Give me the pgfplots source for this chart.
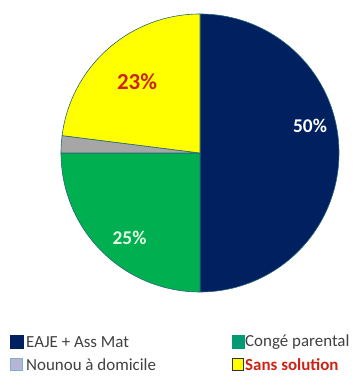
\documentclass[border=0pt]{standalone}
\usepackage{fontspec}
\setmainfont{Carlito}
\usepackage{pgfplots}
\usepackage{pgfplotstable}
\pgfplotsset{compat=1.18}
\definecolor{pnavy}{RGB}{0,32,96}
\definecolor{pgreen}{RGB}{0,176,80}
\definecolor{pgray}{RGB}{166,166,166}
\definecolor{pyellow}{RGB}{255,255,0}
\definecolor{pedge}{RGB}{40,100,120}
\definecolor{lteal}{RGB}{0,155,115}
\definecolor{lblue}{RGB}{120,180,200}
\definecolor{pred}{RGB}{205,35,20}
\definecolor{ltext}{RGB}{64,64,64}
\pgfplotstableread{
value
50
25
2
23
}\piedata
% cumulative angles, clockwise from 90 degrees
\pgfplotstablegetelem{0}{value}\of\piedata \edef\vA{\pgfplotsretval}
\pgfplotstablegetelem{1}{value}\of\piedata \edef\vB{\pgfplotsretval}
\pgfplotstablegetelem{2}{value}\of\piedata \edef\vC{\pgfplotsretval}
\pgfplotstablegetelem{3}{value}\of\piedata \edef\vD{\pgfplotsretval}
\pgfmathsetmacro{\aO}{90}
\pgfmathsetmacro{\aA}{90-3.6*\vA}
\pgfmathsetmacro{\aB}{\aA-3.6*\vB}
\pgfmathsetmacro{\aC}{\aB-3.6*\vC}
\pgfmathsetmacro{\aD}{\aC-3.6*\vD}
\begin{document}
\begin{tikzpicture}
\begin{axis}[
  x=1bp, y=1bp, xmin=0, xmax=359, ymin=0, ymax=377,
  hide axis, clip=false, scale only axis,
]
\path[use as bounding box] (axis cs:0,0) rectangle (axis cs:359,377);
\def\cx{200}\def\cy{224}\def\r{139bp}
\filldraw[fill=pnavy, draw=pedge, line width=0.6bp] (axis cs:\cx,\cy) -- ++(\aO:\r) arc[start angle=\aO, end angle=\aA, radius=\r] -- cycle;
\filldraw[fill=pgreen, draw=pedge, line width=0.6bp] (axis cs:\cx,\cy) -- ++(\aA:\r) arc[start angle=\aA, end angle=\aB, radius=\r] -- cycle;
\filldraw[fill=pgray, draw=pedge, line width=0.6bp] (axis cs:\cx,\cy) -- ++(\aB:\r) arc[start angle=\aB, end angle=\aC, radius=\r] -- cycle;
\filldraw[fill=pyellow, draw=pedge, line width=0.6bp] (axis cs:\cx,\cy) -- ++(\aC:\r) arc[start angle=\aC, end angle=\aD, radius=\r] -- cycle;
% percentage labels
\node[text=white, font=\fontsize{19.5}{22}\selectfont\bfseries] at (axis cs:310,251) {50\%};
\node[text=white!90!green, font=\fontsize{19.5}{22}\selectfont\bfseries] at (axis cs:129.5,139) {25\%};
\node[text=pred, font=\fontsize{23}{26}\selectfont\bfseries] at (axis cs:137,295) {23\%};
% legend
\filldraw[fill=pnavy, draw=pnavy] (axis cs:10,29) rectangle (axis cs:23,42);
\node[anchor=west, inner sep=0pt, text=ltext, font=\fontsize{17}{20}\selectfont] at (axis cs:26,35) {EAJE + Ass Mat};
\filldraw[fill=lteal, draw=lteal] (axis cs:232,29) rectangle (axis cs:244,42);
\node[anchor=west, inner sep=0pt, text=ltext, font=\fontsize{17}{20}\selectfont] at (axis cs:245,35) {Congé parental};
\filldraw[fill=pgray!80!blue!60!white, draw=lblue, line width=1.2bp] (axis cs:10.5,6.5) rectangle (axis cs:22.5,18.5);
\node[anchor=west, inner sep=0pt, text=ltext, font=\fontsize{17}{20}\selectfont] at (axis cs:26,12) {Nounou à domicile};
\filldraw[fill=pyellow, draw=black!80, line width=1bp] (axis cs:232.5,6.5) rectangle (axis cs:243.5,18.5);
\node[anchor=west, inner sep=0pt, text=pred, font=\fontsize{17}{20}\selectfont\bfseries] at (axis cs:245,12) {Sans solution};
\end{axis}
\end{tikzpicture}
\end{document}
